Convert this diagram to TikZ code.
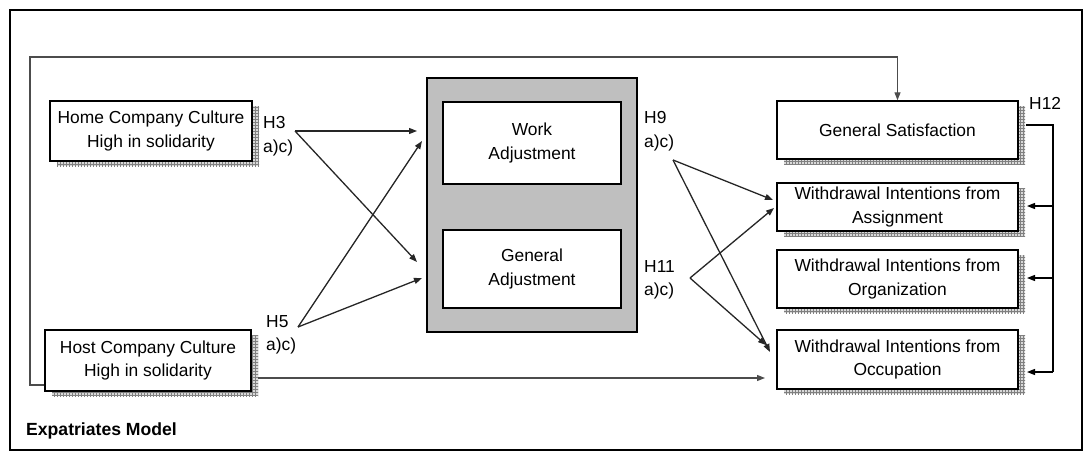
\documentclass[tikz,border=0pt]{standalone}
\usepackage{fontspec}
\setmainfont{Liberation Sans}
\usetikzlibrary{arrows.meta,patterns,calc,shadows}

\begin{document}
\begin{tikzpicture}[x=1pt,y=-1pt,
  txt/.style={font=\fontsize{17.4}{23.5}\selectfont},
  box/.style={draw, fill=white, line width=1.4pt, align=center, inner sep=0pt, txt,
    general shadow={shadow xshift=7pt, shadow yshift=-5pt, draw=none, fill=gray!30,
      postaction={pattern=grid, pattern color=gray}}},
  inbox/.style={draw, fill=white, line width=2pt, align=center, inner sep=0pt, txt},
  hyp/.style={txt, align=left, anchor=west, inner sep=0pt},
  arr/.style={-{Triangle[length=8pt,width=6pt]}, line width=1.3pt, draw=black!85},
  link/.style={line width=1.2pt, draw=black!70}
]
\useasboundingbox (0,0) rectangle (1084,452);

% outer frame
\node[draw, line width=2pt, minimum width=1072pt, minimum height=440pt, inner sep=0pt] (frame) at (546,230) {};

% predictors
\node[box, minimum width=202pt, minimum height=60pt] (home) at (151,131) {Home Company Culture\\High in solidarity};
\node[box, minimum width=206pt, minimum height=61pt] (host) at (148,360.5) {Host Company Culture\\High in solidarity};

% adjustment block
\node[draw, fill=gray!50, line width=2pt, minimum width=210pt, minimum height=254pt, inner sep=0pt] (grp) at (532,205) {};
\node[inbox, minimum width=178pt, minimum height=82pt] (work) at (532,143) {Work\\Adjustment};
\node[inbox, minimum width=178pt, minimum height=78pt] (gen) at (532,269) {General\\Adjustment};

% outcomes
\node[box, minimum width=241pt, minimum height=58pt] (sat) at (897.5,130) {General Satisfaction};
\node[box, minimum width=241pt, minimum height=48pt] (assign) at (897.5,207) {Withdrawal Intentions from\\Assignment};
\node[box, minimum width=241pt, minimum height=58pt] (org) at (897.5,279) {Withdrawal Intentions from\\Organization};
\node[box, minimum width=241pt, minimum height=59pt] (occ) at (897.5,359.5) {Withdrawal Intentions from\\Occupation};

% hypothesis labels
\node[hyp] (h3) at (263,136) {H3\\a)c)};
\node[hyp] (h5) at (266,335) {H5\\a)c)};
\node[hyp] (h9) at (644,131) {H9\\a)c)};
\node[hyp] (h11) at (644,280) {H11\\a)c)};
\node[hyp] (h12) at (1029,103) {H12};

\node[anchor=west, inner sep=0pt, font=\bfseries\fontsize{17.6}{20}\selectfont] (title) at (26,431) {Expatriates Model};

% arrow origins and targets
\coordinate (o3) at (295,131);
\coordinate (o5) at (298,327);
\coordinate (o9) at (673,160);
\coordinate (o11) at (690,278);
\coordinate (t3w) at (417,131);
\coordinate (t3g) at (417,262);
\coordinate (t5w) at (422,141);
\coordinate (t5g) at (422,278);
\coordinate (t9a) at (773,200);
\coordinate (t9o) at (770,352);
\coordinate (t11a) at (774,208);
\coordinate (t11o) at (766,345);

\draw[arr] (o3) -- (t3w);
\draw[arr] (o3) -- (t3g);
\draw[arr] (o5) -- (t5w);
\draw[arr] (o5) -- (t5g);
\draw[arr] (o9) -- (t9a);
\draw[arr] (o9) -- (t9o);
\draw[arr] (o11) -- (t11a);
\draw[arr] (o11) -- (t11o);

% direct path from host culture to occupation
\coordinate (hs) at (258,378);
\coordinate (ht) at (765,378);
\draw[arr, draw=black!70] (hs) -- (ht);

% feedback loop to general satisfaction
\coordinate (fb0) at (host.west |- 0,385);
\draw[link, -{Triangle[length=8pt,width=6pt]}] (fb0) -- (30,385) -- (30,57) -| (sat.north);

% H12 bus
\coordinate (b0) at (1026,125);
\coordinate (b1) at (1053,125);
\coordinate (b2) at (1053,372);
\coordinate (ta) at (1027,206);
\coordinate (to) at (1027,278);
\coordinate (tc) at (1027,372);
\draw[line width=1.3pt] (b0) -- (b1) -- (b2);
\draw[arr, draw=black] (b1 |- ta) -- (ta);
\draw[arr, draw=black] (b1 |- to) -- (to);
\draw[arr, draw=black] (b2) -- (tc);
\end{tikzpicture}
\end{document}
